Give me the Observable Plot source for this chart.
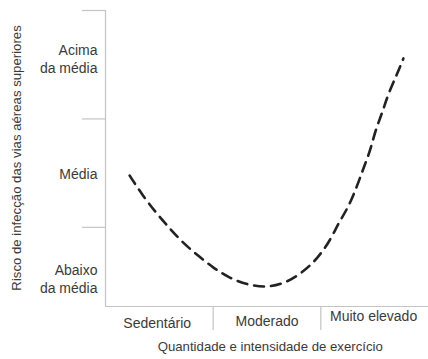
<!DOCTYPE html>
<html>
<head>
<meta charset="utf-8">
<script src="https://cdn.jsdelivr.net/npm/d3@7"></script>
<script src="https://cdn.jsdelivr.net/npm/@observablehq/plot@0.6"></script>
<style>
  html, body { margin: 0; padding: 0; background: #fff; }
  #chart svg { display: block; }
</style>
</head>
<body>
<div id="chart"></div>
<script>
// Curve (x in exercise units 0..3, y in risk units)
const curveX = [0.224, 0.345, 0.475, 0.596, 0.717, 0.857, 0.997, 1.155, 1.342, 1.509, 1.686, 1.854, 1.975, 2.087, 2.162, 2.255, 2.339, 2.395, 2.460, 2.506, 2.572, 2.627, 2.711, 2.767];
const curveY = [1.478, 1.294, 1.128, 0.990, 0.860, 0.740, 0.630, 0.528, 0.464, 0.445, 0.491, 0.602, 0.722, 0.879, 1.036, 1.183, 1.386, 1.543, 1.709, 1.894, 2.060, 2.235, 2.419, 2.558];

// Axis ticks (band boundaries)
const yTicks = [1, 2, 3];
const xTicks = [1, 2];

// Category labels
const yLabels = ["Abaixo\nda média", "Média", "Acima\nda média"];
const yLabelPos = [0.528, 1.5, 2.56];
const xLabels = ["Sedentário", "Moderado", "Muito elevado"];
const xLabelPos = [0.48, 1.5, 2.49];
const xLabelDy = [21, 19, 14];

const xTitle = "Quantidade e intensidade de exercício";
const yTitle = "Risco de infecção das vias aéreas superiores";

const curve = curveX.map((x, i) => ({x, y: curveY[i]}));
const yLab = yLabels.map((t, i) => ({t, y: yLabelPos[i]}));
const xLab = xLabels.map((t, i) => ({t, x: xLabelPos[i], dy: xLabelDy[i]}));

const textColor = "#3a3a3a";
const axisColor = "#c4c4c4";
const xMin = 0, yMin = 0.27;

const chart = Plot.plot({
  width: 428,
  height: 359,
  marginLeft: 105,
  marginRight: 0,
  marginTop: 10,
  marginBottom: 53,
  style: {fontFamily: "'Liberation Sans', Arial, Helvetica, sans-serif", fontSize: "14px", background: "#fff"},
  x: {domain: [0, 3], axis: null},
  y: {domain: [yMin, 3], axis: null},
  marks: [
    Plot.axisY({ticks: yTicks, tickSize: 23, tickFormat: () => "", label: null, stroke: axisColor, strokeWidth: 1.2}),
    Plot.axisX({ticks: xTicks, tickSize: 24, tickFormat: () => "", label: null, stroke: axisColor, strokeWidth: 1.2}),
    Plot.ruleX([xMin], {stroke: axisColor, strokeWidth: 1.2}),
    Plot.ruleY([yMin], {stroke: axisColor, strokeWidth: 1.2}),
    Plot.text(yLab, {y: "y", text: "t", frameAnchor: "left", textAnchor: "end", dx: -8, lineHeight: 1.25, fill: textColor, fontSize: 14}),
    ...xLab.map(d => Plot.text([d], {x: "x", text: "t", frameAnchor: "bottom", dy: d.dy, fill: textColor, fontSize: 14})),
    Plot.text([xTitle], {x: [1.53], text: d => d, frameAnchor: "bottom", dy: 44, fill: textColor, fontSize: 13.2}),
    Plot.text([yTitle], {y: [1.64], text: d => d, frameAnchor: "left", textAnchor: "middle", rotate: -90, dx: -89, fill: textColor, fontSize: 13.2}),
    Plot.line(curve, {x: "x", y: "y", curve: "basis", stroke: "#222", strokeWidth: 2.6, strokeDasharray: "10,7", strokeLinecap: "round"})
  ]
});
document.getElementById("chart").appendChild(chart);
</script>
</body>
</html>
